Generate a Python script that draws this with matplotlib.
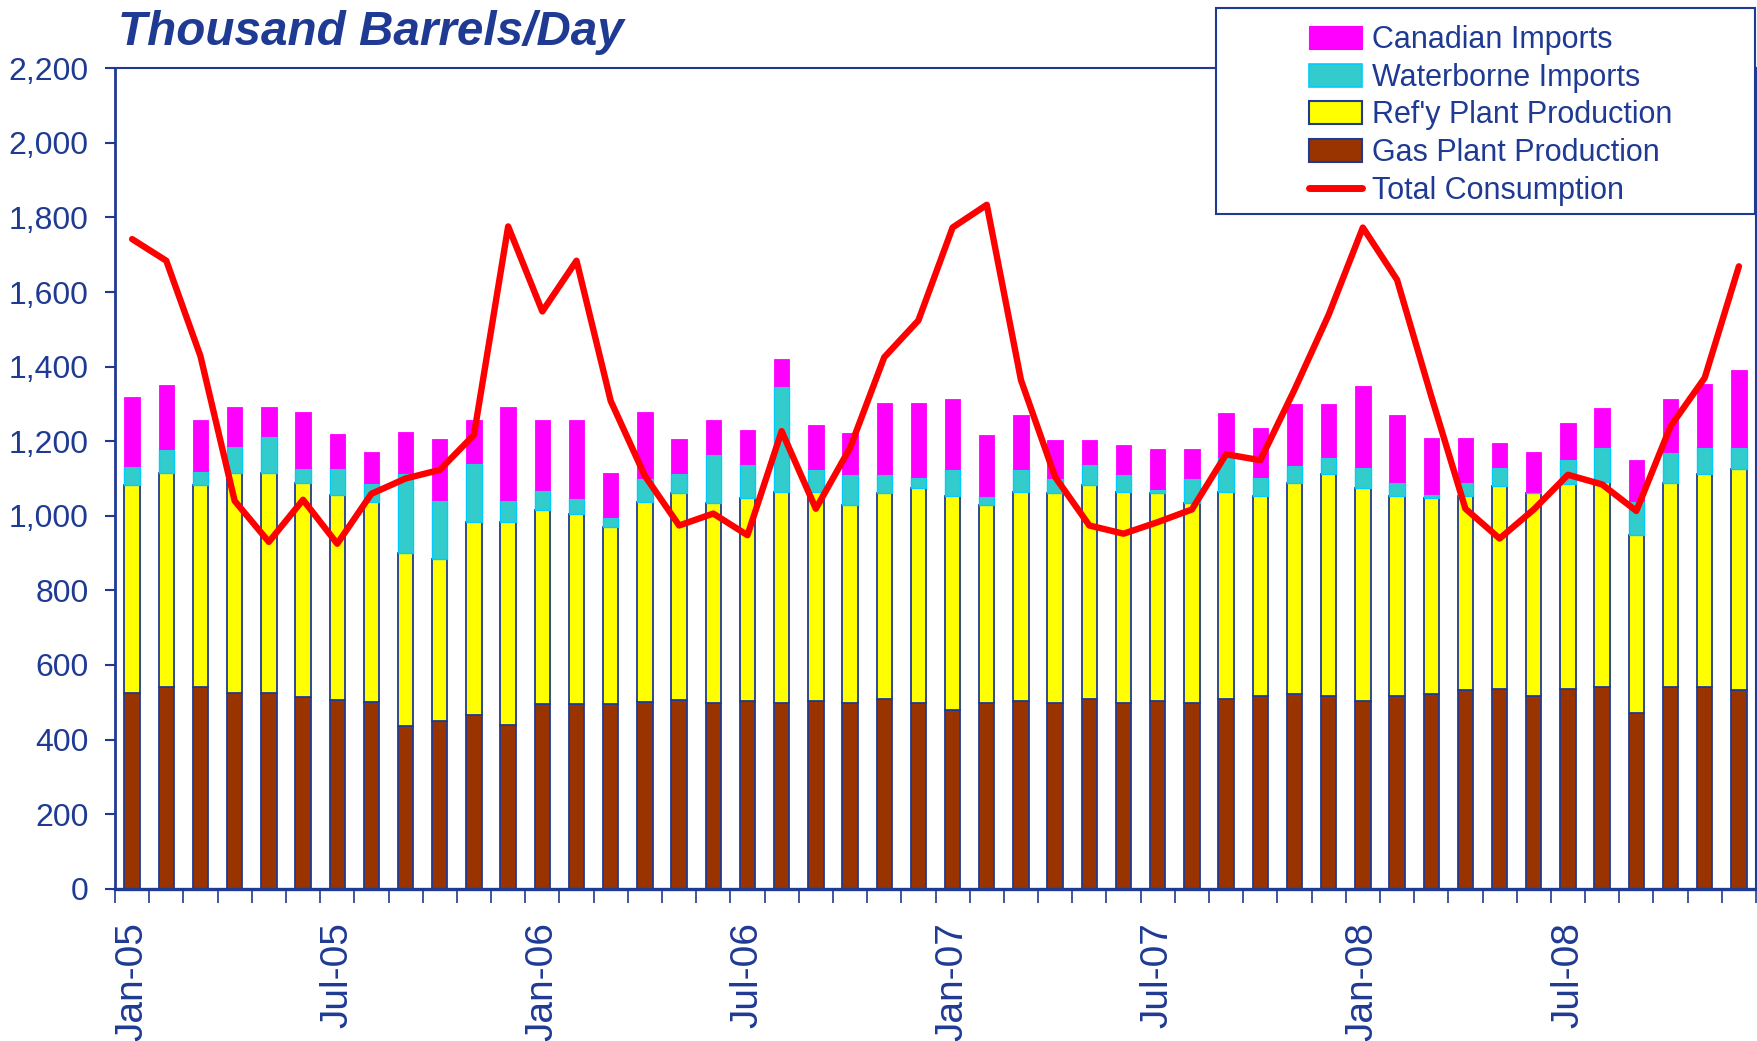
import matplotlib
matplotlib.use("Agg")
import matplotlib.pyplot as plt
from matplotlib.patches import Rectangle, Patch
from matplotlib.lines import Line2D
from matplotlib import font_manager
import numpy as np

# ---------------- data ----------------
months = ["Jan-05", "Feb-05", "Mar-05", "Apr-05", "May-05", "Jun-05", "Jul-05", "Aug-05", "Sep-05", "Oct-05", "Nov-05", "Dec-05",
          "Jan-06", "Feb-06", "Mar-06", "Apr-06", "May-06", "Jun-06", "Jul-06", "Aug-06", "Sep-06", "Oct-06", "Nov-06", "Dec-06",
          "Jan-07", "Feb-07", "Mar-07", "Apr-07", "May-07", "Jun-07", "Jul-07", "Aug-07", "Sep-07", "Oct-07", "Nov-07", "Dec-07",
          "Jan-08", "Feb-08", "Mar-08", "Apr-08", "May-08", "Jun-08", "Jul-08", "Aug-08", "Sep-08", "Oct-08", "Nov-08", "Dec-08"]

gas_plant = [526, 540, 540, 526, 526, 514, 506, 500, 435, 449, 467, 440,
             495, 495, 495, 500, 505, 499, 503, 499, 503, 499, 510, 499,
             480, 499, 503, 499, 510, 499, 503, 499, 510, 516, 523, 516,
             503, 516, 523, 532, 536, 516, 536, 542, 471, 542, 542, 532]

refy_plant = [557, 576, 543, 590, 590, 575, 551, 536, 464, 436, 517, 544,
              521, 509, 476, 536, 557, 536, 545, 566, 562, 529, 551, 575,
              574, 529, 562, 562, 572, 566, 558, 536, 555, 538, 564, 597,
              571, 538, 525, 522, 544, 545, 548, 549, 477, 545, 571, 594]

waterborne = [51, 64, 38, 72, 97, 39, 71, 52, 216, 157, 157, 58,
              52, 45, 26, 65, 52, 130, 91, 283, 61, 85, 52, 30,
              72, 25, 61, 39, 57, 48, 10, 65, 92, 50, 49, 45,
              56, 37, 10, 37, 50, 4, 68, 93, 91, 84, 71, 58]

canadian = [184, 170, 137, 104, 79, 151, 91, 84, 111, 164, 117, 250,
            190, 209, 117, 178, 91, 91, 91, 72, 117, 110, 189, 198,
            188, 164, 143, 104, 65, 78, 107, 78, 119, 131, 165, 143,
            217, 178, 151, 118, 66, 105, 97, 104, 110, 143, 169, 208]

total_consumption = [1742, 1684, 1428, 1040, 930, 1043, 925, 1059, 1100, 1123, 1217, 1776,
                     1548, 1684, 1308, 1107, 974, 1006, 948, 1227, 1019, 1182, 1425, 1524,
                     1773, 1834, 1364, 1104, 974, 952, 983, 1017, 1165, 1149, 1338, 1539,
                     1773, 1633, 1321, 1019, 939, 1017, 1110, 1084, 1013, 1240, 1370, 1669]

y_ticks = [0, 200, 400, 600, 800, 1000, 1200, 1400, 1600, 1800, 2000, 2200]
label_every = 6

# ---------------- style ----------------
NAVY = "#1F3A93"
C_GAS = "#993300"
C_REFY = "#FFFF00"
C_WATER = "#33CCCC"
C_WATER_EDGE = "#00CCFF"
C_CAN = "#FF00FF"
C_LINE = "#FF0000"

names = {f.name for f in font_manager.fontManager.ttflist}
if "Liberation Sans Narrow" in names:
    NARROW = ["Liberation Sans Narrow", "DejaVu Sans"]
    ytick_fs, xtick_fs, leg_fs = 27, 31, 26
else:
    NARROW = ["Liberation Sans", "DejaVu Sans"]
    ytick_fs, xtick_fs, leg_fs = 23, 28, 22

W, H = 1757, 1041
fig = plt.figure(figsize=(W / 100, H / 100), dpi=100)
ax_left, ax_right = 115, 1756
ax_top, ax_bot = 68.3, 888.7
ax = fig.add_axes([ax_left / W, 1 - ax_bot / H, (ax_right - ax_left) / W, (ax_bot - ax_top) / H])

x = np.arange(len(months))
gas = np.array(gas_plant)
refy = np.array(refy_plant)
water = np.array(waterborne)
can = np.array(canadian)
bw = 0.45

ax.bar(x, gas, bw, color=C_GAS, edgecolor=NAVY, linewidth=1.3, zorder=2)
ax.bar(x, refy, bw, bottom=gas, color=C_REFY, edgecolor=NAVY, linewidth=1.3, zorder=2)
ax.bar(x, water, bw, bottom=gas + refy, color=C_WATER, edgecolor=C_WATER_EDGE, linewidth=1.0, zorder=2)
ax.bar(x, can, bw, bottom=gas + refy + water, color=C_CAN, edgecolor=C_CAN, linewidth=0.6, zorder=2)
ax.plot(x, total_consumption, color=C_LINE, linewidth=4.6, solid_joinstyle="round", solid_capstyle="round", zorder=4)

ax.set_xlim(-0.5, len(months) - 0.5)
ax.set_ylim(y_ticks[0], y_ticks[-1])
ax.set_yticks(y_ticks)
ax.set_yticklabels([f"{v:,}" for v in y_ticks], family=NARROW, fontsize=ytick_fs, color=NAVY)
ax.tick_params(axis="y", direction="out", length=7.5, width=1.5, color=NAVY, pad=11.5)

ax.set_xticks(np.arange(-0.5, len(months), 1.0))
ax.set_xticklabels([])
ax.tick_params(axis="x", which="major", direction="out", length=10, width=1.2, color=NAVY)
lab_pos = x[::label_every]
ax.set_xticks(lab_pos, minor=True)
ax.set_xticklabels([months[i] for i in lab_pos], minor=True, rotation=90, family=NARROW,
                   fontsize=xtick_fs, color=NAVY)
ax.tick_params(axis="x", which="minor", length=0, pad=24)

for side, lw in (("left", 2.0), ("bottom", 2.4), ("top", 1.5), ("right", 1.5)):
    ax.spines[side].set_color(NAVY)
    ax.spines[side].set_linewidth(lw)

# title
fig.text(118 / W, 1 - 45 / H, "Thousand Barrels/Day", fontsize=34.3, fontweight="bold", fontstyle="italic",
         color=NAVY, family=["Liberation Sans", "DejaVu Sans"], ha="left", va="baseline")

# legend box
bx0, bx1, by0, by1 = 1216, 1755, 8, 214
rect = Rectangle((bx0 / W, 1 - by1 / H), (bx1 - bx0) / W, (by1 - by0) / H, transform=fig.transFigure,
                 facecolor="white", edgecolor=NAVY, linewidth=1.5, zorder=10)
fig.add_artist(rect)
handles = [Patch(facecolor=C_CAN, edgecolor=C_CAN, linewidth=0.8),
           Patch(facecolor=C_WATER, edgecolor=C_WATER_EDGE, linewidth=1.2),
           Patch(facecolor=C_REFY, edgecolor=NAVY, linewidth=1.5),
           Patch(facecolor=C_GAS, edgecolor=NAVY, linewidth=1.5),
           Line2D([0], [0], color=C_LINE, linewidth=5, solid_capstyle="round")]
labels = ["Canadian Imports", "Waterborne Imports", "Ref'y Plant Production", "Gas Plant Production", "Total Consumption"]
leg_cx = (bx0 + bx1) / 2 + 5
leg_cy = (by0 + by1) / 2 + 4.5
leg = fig.legend(handles, labels, loc="center", bbox_to_anchor=(leg_cx / W, 1 - leg_cy / H),
                 frameon=False, prop={"family": NARROW, "size": leg_fs}, labelcolor=NAVY,
                 handlelength=1.75, handleheight=0.78, handletextpad=0.3, labelspacing=0.25, borderpad=0)
leg.set_zorder(11)

fig.savefig("out.png", dpi=100)
